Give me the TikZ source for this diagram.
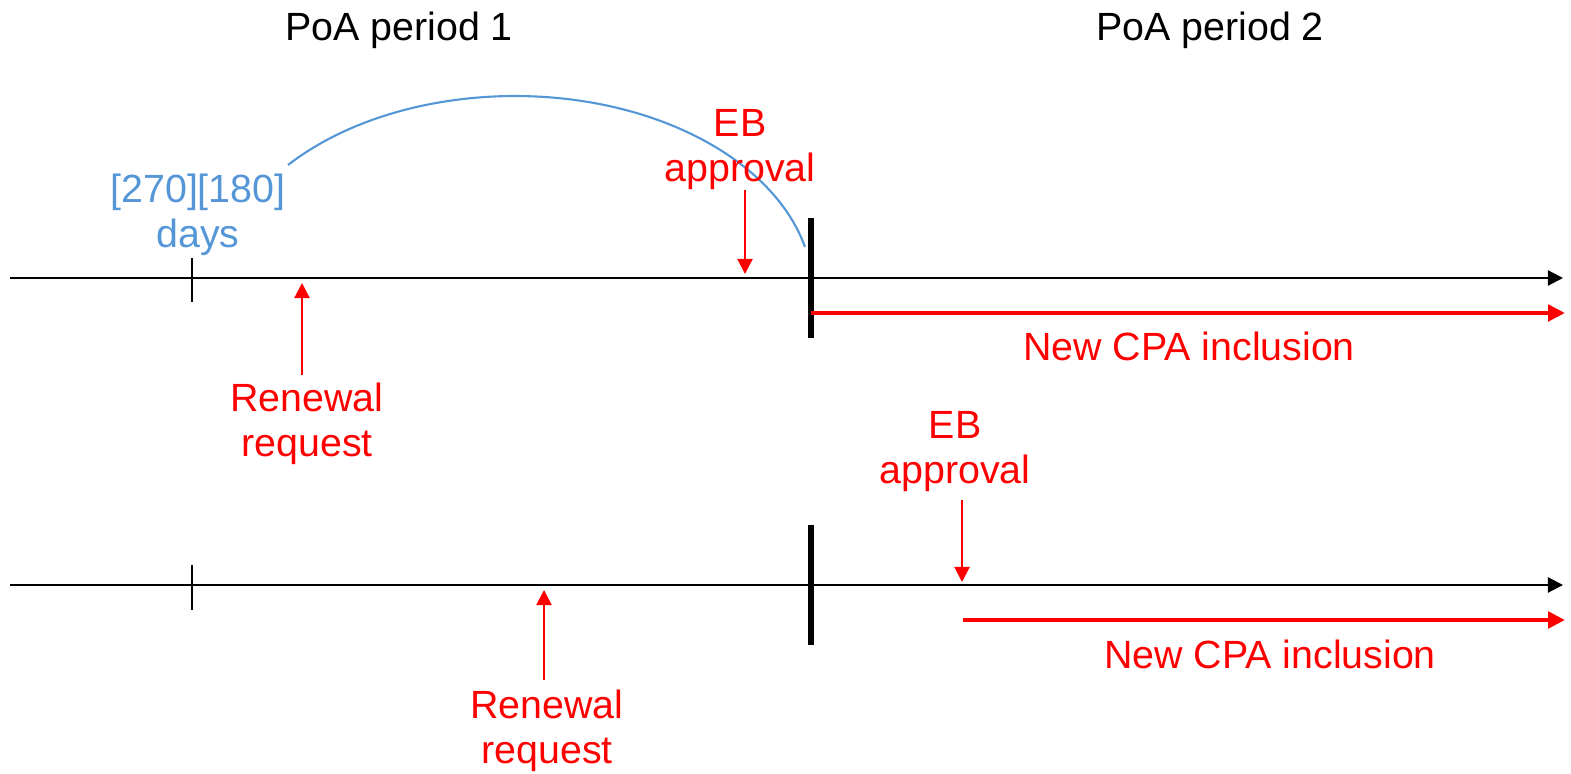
\documentclass[tikz,border=0pt]{standalone}
\usepackage{fontspec}
\setmainfont{Liberation Sans}
\usetikzlibrary{arrows.meta}
\definecolor{daysblue}{RGB}{85,150,215}
\tikzset{
  txt/.style={inner sep=0pt,align=center,font=\fontsize{11.2}{12.8}\selectfont},
  axisline/.style={line width=0.6pt,-{Triangle[length=4.3pt,width=4.3pt]}},
  smalltick/.style={line width=0.6pt},
  bigtick/.style={line width=1.7pt},
  redpin/.style={red,line width=0.6pt,-{Triangle[length=4.3pt,width=4.3pt]}},
  cpaarrow/.style={red,line width=1.4pt,-{Triangle[length=4.8pt,width=4.6pt]}}
}
\begin{document}
\begin{tikzpicture}
  \useasboundingbox (0,0) rectangle (15.71,7.74);
  % titles
  \node[txt] (per1) at (3.99,7.44) {PoA period 1};
  \node[txt] (per2) at (12.10,7.44) {PoA period 2};
  % first time line
  \coordinate (a1s) at (0.10,4.96);
  \coordinate (a1e) at (15.63,4.96);
  \draw[axisline] (a1s) -- (a1e);
  \coordinate (t1a) at (1.92,5.16);
  \coordinate (t1b) at (1.92,4.72);
  \draw[smalltick] (t1a) -- (t1b);
  \coordinate (b1a) at (8.11,5.56);
  \coordinate (b1b) at (8.11,4.36);
  \draw[bigtick] (b1a) -- (b1b);
  \coordinate (c1s) at (8.11,4.61);
  \coordinate (c1e) at (15.65,4.61);
  \draw[cpaarrow] (c1s) -- (c1e);
  \node[txt,red] (cpa1) at (11.89,4.28) {New CPA inclusion};
  \node[txt,daysblue] (days) at (1.98,5.59) {[270][180]\\days};
  \coordinate (arcs) at (2.88,6.09);
  \draw[daysblue,line width=0.6pt] (arcs) arc[start angle=139.6,end angle=13.3,x radius=2.98,y radius=1.96];
  \node[txt,red] (eb1) at (7.40,6.24) {EB\\approval};
  \coordinate (eb1s) at (7.45,5.84);
  \coordinate (eb1t) at (7.45,5.00);
  \draw[redpin] (eb1s) -- (eb1t);
  \node[txt,red] (ren1) at (3.07,3.50) {Renewal\\request};
  \coordinate (ren1s) at (3.02,3.99);
  \coordinate (ren1t) at (3.02,4.91);
  \draw[redpin] (ren1s) -- (ren1t);
  % second time line
  \coordinate (a2s) at (0.10,1.89);
  \coordinate (a2e) at (15.63,1.89);
  \draw[axisline] (a2s) -- (a2e);
  \coordinate (t2a) at (1.92,2.09);
  \coordinate (t2b) at (1.92,1.64);
  \draw[smalltick] (t2a) -- (t2b);
  \coordinate (b2a) at (8.11,2.49);
  \coordinate (b2b) at (8.11,1.29);
  \draw[bigtick] (b2a) -- (b2b);
  \coordinate (c2s) at (9.63,1.54);
  \coordinate (c2e) at (15.65,1.54);
  \draw[cpaarrow] (c2s) -- (c2e);
  \node[txt,red] (cpa2) at (12.70,1.20) {New CPA inclusion};
  \node[txt,red] (eb2) at (9.55,3.22) {EB\\approval};
  \coordinate (eb2s) at (9.62,2.74);
  \coordinate (eb2t) at (9.62,1.92);
  \draw[redpin] (eb2s) -- (eb2t);
  \node[txt,red] (ren2) at (5.47,0.43) {Renewal\\request};
  \coordinate (ren2s) at (5.44,0.94);
  \coordinate (ren2t) at (5.44,1.84);
  \draw[redpin] (ren2s) -- (ren2t);
\end{tikzpicture}
\end{document}
